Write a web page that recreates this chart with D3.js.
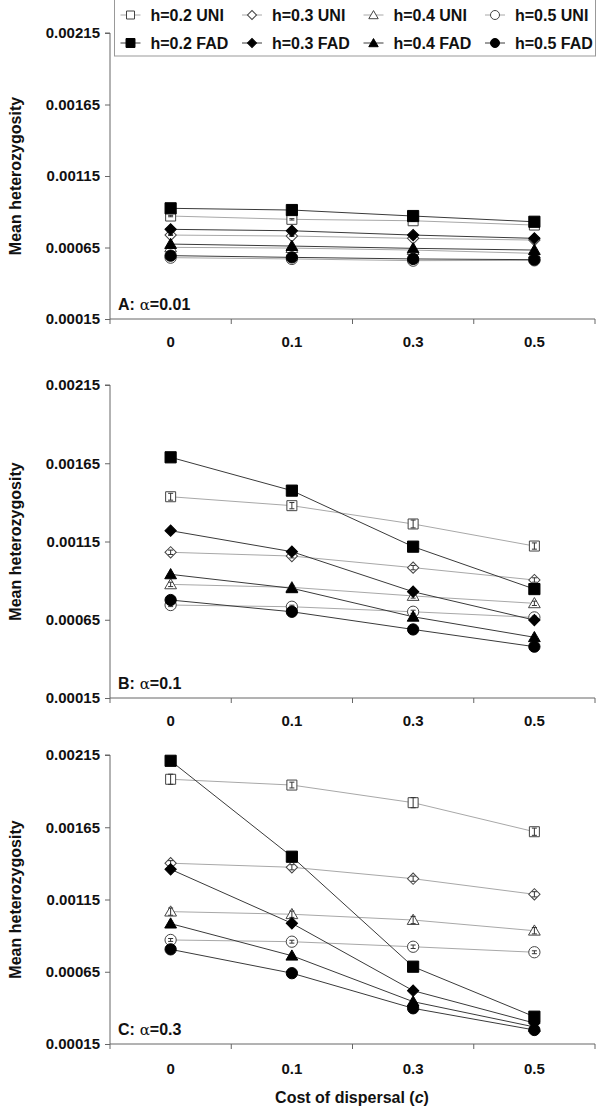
<!DOCTYPE html>
<html>
<head>
<meta charset="utf-8">
<script src="https://cdn.jsdelivr.net/npm/d3@7"></script>
<style>
  html, body { margin: 0; padding: 0; background: #fff; }
  svg { display: block; }
  text { font-family: "Liberation Sans", Arial, sans-serif; }
</style>
</head>
<body>
<svg id="chart" width="600" height="1109"></svg>
<script>
// ---------- data ----------
const categories = ["0", "0.1", "0.3", "0.5"];
const hLevels = ["0.2", "0.3", "0.4", "0.5"];
const yTicks = [0.00015, 0.00065, 0.00115, 0.00165, 0.00215];

// Panel A: alpha = 0.01
const panelA_UNI = [
  [0.000870, 0.000847, 0.000837, 0.000807],
  [0.000737, 0.000730, 0.000714, 0.000702],
  [0.000651, 0.000646, 0.000632, 0.000609],
  [0.000579, 0.000570, 0.000558, 0.000560]
];
const panelA_FAD = [
  [0.000924, 0.000912, 0.000870, 0.000830],
  [0.000777, 0.000767, 0.000737, 0.000714],
  [0.000674, 0.000660, 0.000644, 0.000632],
  [0.000593, 0.000581, 0.000570, 0.000565]
];
const panelA_ERR = [
  [0.000005, 0.000005, 0.000004, 0.000004],
  [0.000003, 0.000003, 0.000003, 0.000003],
  [0.000003, 0.000003, 0.000003, 0.000003],
  [0.000002, 0.000002, 0.000002, 0.000002]
];

// Panel B: alpha = 0.1
const panelB_UNI = [
  [0.001436, 0.001379, 0.001262, 0.001121],
  [0.001081, 0.001057, 0.000983, 0.000904],
  [0.000876, 0.000857, 0.000802, 0.000755],
  [0.000744, 0.000733, 0.000701, 0.000665]
];
const panelB_FAD = [
  [0.001688, 0.001475, 0.001117, 0.000846],
  [0.001219, 0.001085, 0.000829, 0.000648],
  [0.000940, 0.000851, 0.000669, 0.000538],
  [0.000776, 0.000701, 0.000588, 0.000478]
];
const panelB_ERR = [
  [0.000022, 0.000020, 0.000025, 0.000020],
  [0.000014, 0.000012, 0.000014, 0.000014],
  [0.000014, 0.000012, 0.000014, 0.000014],
  [0.000010, 0.000010, 0.000010, 0.000008]
];

// Panel C: alpha = 0.3
const panelC_UNI = [
  [0.001982, 0.001942, 0.001820, 0.001619],
  [0.001401, 0.001373, 0.001294, 0.001186],
  [0.001066, 0.001048, 0.001008, 0.000934],
  [0.000870, 0.000858, 0.000823, 0.000785]
];
const panelC_FAD = [
  [0.002110, 0.001446, 0.000685, 0.000339],
  [0.001359, 0.000985, 0.000519, 0.000295],
  [0.000983, 0.000761, 0.000443, 0.000268],
  [0.000805, 0.000640, 0.000397, 0.000247]
];
const panelC_ERR = [
  [0.000035, 0.000020, 0.000035, 0.000025],
  [0.000018, 0.000018, 0.000018, 0.000018],
  [0.000025, 0.000022, 0.000025, 0.000022],
  [0.000010, 0.000010, 0.000012, 0.000010]
];

const panelNames = ["A", "B", "C"];
const panelAlphas = ["0.01", "0.1", "0.3"];

// ---------- layout ----------
const svg = d3.select("#chart");
const xLeft = 110, xRight = 595;
const panels = [
  { uni: panelA_UNI, fad: panelA_FAD, err: panelA_ERR, top: 33,  bottom: 319, labelOff: 23 },
  { uni: panelB_UNI, fad: panelB_FAD, err: panelB_ERR, top: 385, bottom: 698, labelOff: 23 },
  { uni: panelC_UNI, fad: panelC_FAD, err: panelC_ERR, top: 755, bottom: 1044, labelOff: 25 }
];

const x = d3.scaleBand().domain(categories).range([xLeft, xRight]);
const xc = c => x(c) + x.bandwidth() / 2;

const symTypes = [d3.symbolSquare, "diamond", d3.symbolTriangle, d3.symbolCircle];
function markerPath(i, filled, small) {
  const k = small ? 0.8 : 1;
  if (i === 0) return d3.symbol(d3.symbolSquare, (filled ? 125 : 100) * k * k)();
  if (i === 1) return d3.symbol(d3.symbolSquare, 64 * k * k)();
  if (i === 2) return d3.symbol(d3.symbolTriangle, 60 * k * k)();
  return d3.symbol(d3.symbolCircle, 100 * k * k)();
}
function markerTransform(i, px, py) {
  if (i === 1) return `translate(${px},${py}) rotate(45)`;
  if (i === 2) return `translate(${px},${py + 1})`;
  return `translate(${px},${py})`;
}

const UNI_LINE = "#a8a8a8", FAD_LINE = "#3a3a3a", AXIS = "#666";

panels.forEach((p, pi) => {
  const y = d3.scaleLinear().domain([0.00015, 0.00215]).range([p.bottom, p.top]);
  const g = svg.append("g");

  // y axis
  const yAxis = d3.axisLeft(y).tickValues(yTicks).tickFormat(d3.format(".5f")).tickSize(5).tickPadding(5);
  const ya = g.append("g").attr("transform", `translate(${xLeft},0)`).call(yAxis);
  ya.select(".domain").attr("stroke", AXIS).attr("d", `M-5,${p.top}H0V${p.bottom}`);
  ya.selectAll(".tick line").attr("stroke", AXIS);
  ya.selectAll(".tick text").attr("font-size", 15).attr("font-weight", "bold")
    .attr("fill", "#111").attr("font-family", "Liberation Sans, Arial, sans-serif");

  // x axis line + boundary ticks
  const xa = g.append("g").attr("transform", `translate(0,${p.bottom})`);
  xa.append("line").attr("x1", xLeft).attr("x2", xRight).attr("y1", 0).attr("y2", 0).attr("stroke", AXIS);
  const bounds = categories.map(c => x(c)).concat([x.range()[1]]);
  xa.selectAll("line.bt").data(bounds).join("line").attr("class", "bt")
    .attr("x1", d => d).attr("x2", d => d).attr("y1", 0).attr("y2", 5).attr("stroke", AXIS);
  xa.selectAll("text.xl").data(categories).join("text").attr("class", "xl")
    .attr("x", d => xc(d)).attr("y", p.labelOff).attr("dy", "0.35em")
    .attr("text-anchor", "middle").attr("font-size", 15).attr("font-weight", "bold").attr("fill", "#111")
    .text(d => d);

  // y title
  g.append("text")
    .attr("transform", `translate(15,${(p.top + p.bottom) / 2}) rotate(-90)`)
    .attr("text-anchor", "middle").attr("dy", "0.35em")
    .attr("font-size", 16).attr("font-weight", "bold").attr("fill", "#111")
    .text("Mean heterozygosity");

  // panel label
  const pl = g.append("text").attr("x", 118).attr("y", p.bottom - 9)
    .attr("font-size", 16).attr("fill", "#111");
  pl.append("tspan").attr("font-weight", "bold").text(panelNames[pi] + ":");
  pl.append("tspan").attr("font-family", "DejaVu Serif, Liberation Serif, serif").attr("font-size", 15).text(" α");
  pl.append("tspan").attr("font-weight", "bold").text("=" + panelAlphas[pi]);

  const line = d3.line().x((d, i) => xc(categories[i])).y(d => y(d));

  // UNI series (drawn first, gray lines)
  p.uni.forEach((vals, si) => {
    g.append("path").attr("d", line(vals)).attr("fill", "none").attr("stroke", UNI_LINE).attr("stroke-width", 1);
  });
  p.fad.forEach((vals, si) => {
    g.append("path").attr("d", line(vals)).attr("fill", "none").attr("stroke", FAD_LINE).attr("stroke-width", 1);
  });
  // UNI markers with error bars
  p.uni.forEach((vals, si) => {
    vals.forEach((v, ci) => {
      const px = xc(categories[ci]), py = y(v);
      g.append("path").attr("d", markerPath(si, false)).attr("transform", markerTransform(si, px, py))
        .attr("fill", "#fff").attr("stroke", "#444").attr("stroke-width", 1);
      const e = p.err[si][ci];
      const y1 = y(v + e), y2 = y(v - e);
      const eg = g.append("g").attr("stroke", "#333").attr("stroke-width", 1);
      eg.append("line").attr("x1", px).attr("x2", px).attr("y1", y1).attr("y2", y2);
      eg.append("line").attr("x1", px - 2.5).attr("x2", px + 2.5).attr("y1", y1).attr("y2", y1);
      eg.append("line").attr("x1", px - 2.5).attr("x2", px + 2.5).attr("y1", y2).attr("y2", y2);
    });
  });
  // FAD markers
  p.fad.forEach((vals, si) => {
    vals.forEach((v, ci) => {
      const px = xc(categories[ci]), py = y(v);
      g.append("path").attr("d", markerPath(si, true)).attr("transform", markerTransform(si, px, py))
        .attr("fill", "#000").attr("stroke", "#000").attr("stroke-width", 1);
    });
  });
});

// x axis title
const xt = svg.append("text").attr("x", 352).attr("y", 1097).attr("dy", "0.35em")
  .attr("text-anchor", "middle").attr("font-size", 16).attr("font-weight", "bold").attr("fill", "#111");
xt.append("tspan").text("Cost of dispersal (");
xt.append("tspan").attr("font-style", "italic").text("c");
xt.append("tspan").text(")");

// ---------- legend ----------
const lg = svg.append("g");
lg.append("rect").attr("x", 114.5).attr("y", -1).attr("width", 481).attr("height", 57)
  .attr("fill", "#fff").attr("stroke", "#999");
const colX = [130.5, 252, 373.5, 495];
const rowY = [15, 43];
["UNI", "FAD"].forEach((kind, ri) => {
  hLevels.forEach((h, si) => {
    const cx = colX[si], cy = rowY[ri];
    const filled = kind === "FAD";
    lg.append("line").attr("x1", cx - 10).attr("x2", cx + 10).attr("y1", cy).attr("y2", cy)
      .attr("stroke", filled ? FAD_LINE : UNI_LINE);
    lg.append("path").attr("d", markerPath(si, filled, true)).attr("transform", markerTransform(si, cx, cy))
      .attr("fill", filled ? "#000" : "#fff").attr("stroke", filled ? "#000" : "#444");
    lg.append("text").attr("x", cx + 20).attr("y", cy).attr("dy", "0.35em")
      .attr("font-size", 16).attr("font-weight", "bold").attr("fill", "#111")
      .text(`h=${h} ${kind}`);
  });
});
</script>
</body>
</html>
